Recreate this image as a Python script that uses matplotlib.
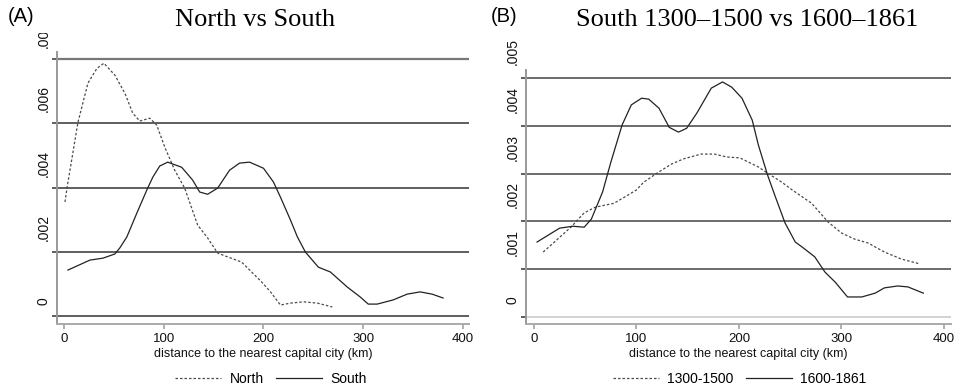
import matplotlib
matplotlib.use("Agg")
import matplotlib.pyplot as plt
from matplotlib.transforms import ScaledTranslation, Bbox, TransformedBbox

# ---------------- data ----------------
north_km = [1, 3, 14, 24, 33, 40, 51, 61, 69, 76, 86, 93, 101, 111, 121, 134, 144,
            154, 164, 178, 191, 199, 207, 217, 227, 240, 254, 269]
north_density = [.00355, .00398, .00603, .00725, .00771, .00787, .00750, .00694,
                 .00631, .00607, .00616, .00594, .00526, .00454, .00398, .00283,
                 .00243, .00196, .00184, .00168, .00128, .00103, .00075, .00034,
                 .00040, .00044, .00040, .00028]

south_km = [4, 26, 39, 51, 56, 63, 73, 83, 89, 96, 104, 118, 129, 136, 144, 154, 166,
            176, 186, 200, 210, 217, 227, 234, 242, 255, 267, 284, 297, 305, 314,
            330, 344, 357, 369, 380]
south_density = [.00143, .00174, .00180, .00193, .00212, .00246, .00320, .00392,
                 .00432, .00467, .00479, .00463, .00423, .00386, .00379, .00398,
                 .00454, .00476, .00479, .00460, .00417, .00370, .00299, .00246,
                 .00199, .00152, .00137, .00090, .00059, .00037, .00037, .00050,
                 .00068, .00075, .00068, .00056]

early_km = [9, 22, 36, 49, 60, 78, 90, 100, 107, 120, 134, 146, 163, 176, 188, 201,
            219, 228, 242, 252, 271, 287, 300, 313, 326, 342, 359, 377]
early_density = [.00136, .00161, .00188, .00218, .00230, .00238, .00253, .00266,
                 .00282, .00301, .00320, .00331, .00341, .00341, .00335, .00333,
                 .00314, .00301, .00282, .00266, .00238, .00199, .00176, .00163,
                 .00155, .00136, .00121, .00111]

late_km = [3, 25, 38, 49, 56, 62, 67, 75, 86, 95, 105, 112, 122, 132, 141, 149, 159,
           173, 184, 193, 203, 213, 219, 228, 235, 245, 255, 262, 274, 284, 294,
           306, 320, 333, 342, 355, 365, 380]
late_density = [.00157, .00186, .00190, .00188, .00205, .00236, .00262, .00324,
                .00402, .00444, .00458, .00456, .00437, .00397, .00387, .00395,
                .00427, .00479, .00492, .00481, .00458, .00412, .00360, .00297,
                .00255, .00197, .00157, .00146, .00126, .00094, .00073, .00042,
                .00042, .00050, .00061, .00065, .00063, .00050]

x_ticks = [0, 100, 200, 300, 400]
x_tick_labels = ["0", "100", "200", "300", "400"]
a_y_ticks = [0, .002, .004, .006, .008]
a_y_tick_labels = ["0", ".002", ".004", ".006", ".008"]
b_y_ticks = [0, .001, .002, .003, .004, .005]
b_y_tick_labels = ["0", ".001", ".002", ".003", ".004", ".005"]

x_label = "distance to the nearest capital city (km)"
title_a = "North vs South"
title_b = "South 1300\u20131500 vs 1600\u20131861"

# ---------------- figure ----------------
W, H = 957, 389
plt.rcParams["font.family"] = ["Liberation Sans", "DejaVu Sans"]
fig = plt.figure(figsize=(W / 100, H / 100), dpi=100)


def ax_at(l, r, t, b):
    return fig.add_axes([l / W, 1 - b / H, (r - l) / W, (b - t) / H])


axA = ax_at(57, 469, 52, 324)
axB = ax_at(526, 951, 70, 324)

dash = (0, (2.0, 1.6))
kw = dict(lw=0.9, solid_joinstyle="round", dash_joinstyle="round")
axA.plot(north_km, north_density, color="#4a4a4a", ls=dash, label="North", **kw)
axA.plot(south_km, south_density, color="#222222", label="South", **kw)
axB.plot(early_km, early_density, color="#4a4a4a", ls=dash, label="1300-1500", **kw)
axB.plot(late_km, late_density, color="#222222", label="1600-1861", **kw)


def style(ax, xlim, ylim, yt, ytl, off_px):
    ax.set_xlim(*xlim)
    ax.set_ylim(*ylim)
    ax.set_xticks(x_ticks)
    ax.set_xticklabels(x_tick_labels)
    ax.set_yticks(yt)
    ax.set_yticklabels(ytl, rotation=90, va="bottom", ha="right")
    for s in ("top", "right"):
        ax.spines[s].set_visible(False)
    ax.spines["left"].set_color("#999999")
    ax.spines["left"].set_linewidth(1.4)
    ax.spines["bottom"].set_color("#aaaaaa")
    ax.spines["bottom"].set_linewidth(1.4)
    ax.tick_params(axis="y", length=3.8, width=1.1, color="#333333", pad=1,
                   labelsize=10, labelcolor="#111111")
    ax.tick_params(axis="x", length=3.8, width=1.1, color="#999999", pad=3,
                   labelsize=9.5, labelcolor="#111111")
    ax.grid(axis="y", color="#333333", lw=1.1)
    ax.set_xlabel(x_label, fontsize=9, labelpad=2, color="#111111")
    for lbl in ax.get_yticklabels():
        lbl.set_transform(lbl.get_transform() +
                          ScaledTranslation(0, off_px / 100, fig.dpi_scale_trans))


style(axA, (-7, 406), (-0.00025, 0.00822), a_y_ticks, a_y_tick_labels, 11)
style(axB, (-7.8, 407), (-0.000146, 0.00517), b_y_ticks, b_y_tick_labels, 13)

ga = axA.get_ygridlines()
ga[-1].set_color("#777777")
ga[-1].set_linewidth(1.6)
gb = axB.get_ygridlines()
gb[0].set_color("#c8c8c8")
for g in gb[1:]:
    g.set_color("#444444")

# top label of panel A is cut by the edge of the plot region
top_lbl = axA.get_yticklabels()[-1]
top_lbl.set_clip_box(TransformedBbox(Bbox([[0, 0], [1, 1 - 33 / H]]), fig.transFigure))
top_lbl.set_clip_on(True)

# titles
fig.text(8 / W, 1 - 17 / H, "(A)", fontsize=14.5, va="center", ha="left")
fig.text(255 / W, 1 - 26 / H, title_a, fontsize=19, va="baseline", ha="center",
         family="Liberation Serif")
fig.text(491 / W, 1 - 17 / H, "(B)", fontsize=14.5, va="center", ha="left")
fig.text(747 / W, 1 - 26 / H, title_b, fontsize=19, va="baseline", ha="center",
         family="Liberation Serif")

for ax, cx in ((axA, 271), (axB, 740)):
    ax.legend(loc="center", bbox_to_anchor=(cx / W, 1 - 379 / H),
              bbox_transform=fig.transFigure, ncol=2, frameon=False, fontsize=10,
              handlelength=3.3, handletextpad=0.6, columnspacing=0.9,
              borderaxespad=0, borderpad=0)

fig.savefig("out.png", dpi=100)
